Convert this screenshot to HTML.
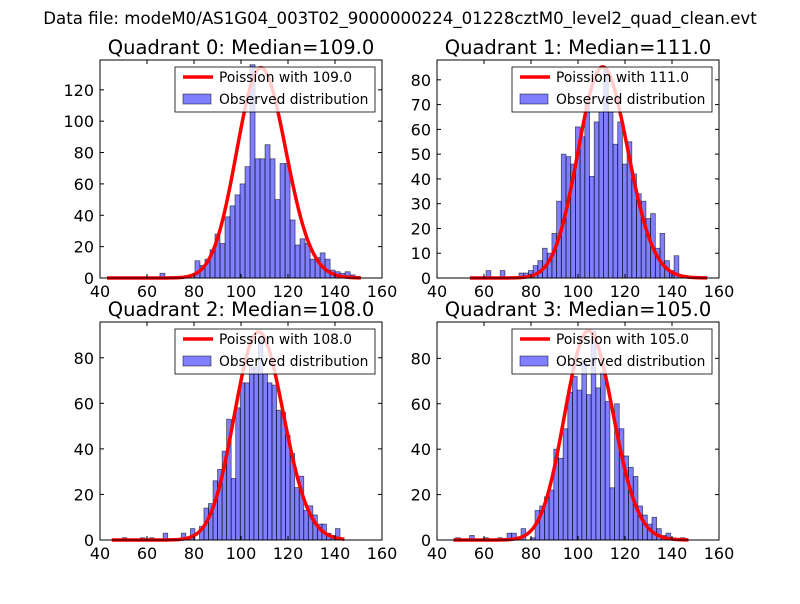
<!DOCTYPE html>
<html><head><meta charset="utf-8"><style>
body{margin:0;background:#fff;font-family:"DejaVu Sans",sans-serif}
svg text{font-family:"DejaVu Sans","Liberation Sans",sans-serif}
</style></head><body>
<svg id="fig" width="800" height="600" viewBox="0 0 800 600">
<rect width="800" height="600" fill="#fff"/>
<text x="400" y="24" font-size="16.6" text-anchor="middle">Data file: modeM0/AS1G04_003T02_9000000224_01228cztM0_level2_quad_clean.evt</text>
</svg>
<script>
const medians = [109.0, 111.0, 108.0, 105.0];
const binStarts = [65.5, 60.9, 49.5, 47.9];
const binWidths = [2.13, 2.0, 1.93, 1.99];
const counts0 = [3,0,0,0,0,0,0,11,8,12,18,28,22,39,46,53,60,71,136,76,76,85,76,50,73,73,37,21,25,22,12,13,16,12,5,4,3,4,2,1];
const counts1 = [3,0,0,3,0,0,0,2,2,3,5,7,12,10,18,31,50,49,46,61,57,70,41,63,67,84,67,54,63,46,55,42,34,31,24,26,12,18,7,3,9];
const counts2 = [1,0,0,0,1,0,1,0,0,3,0,0,0,3,0,5,0,6,14,16,26,31,39,53,27,58,69,69,76,76,88,73,69,68,57,56,46,38,23,28,13,15,11,7,7,3,2,5];
const counts3 = [1,0,0,2,0,0,1,0,0,1,0,3,3,0,5,0,1,13,15,19,22,40,36,49,65,72,66,79,64,92,67,74,61,23,60,49,37,32,28,15,11,7,10,5,2,3,1,0,1];
const allCounts = [counts0, counts1, counts2, counts3];
const curveScales = [3508, 2250, 2380, 2365];
const curveMin = [43, 54, 45, 47];
const curveMax = [151, 155, 144, 147];
const yMaxes = [139, 88, 95.7, 96];
const xTicks = [40, 60, 80, 100, 120, 140, 160];
const yTickSets = [[0,20,40,60,80,100,120],[0,10,20,30,40,50,60,70,80],[0,20,40,60,80],[0,20,40,60,80]];

const NS = "http://www.w3.org/2000/svg";
const svg = document.getElementById('fig');
function mk(tag, attrs, parent){const e=document.createElementNS(NS,tag);for(const k in attrs)e.setAttribute(k,attrs[k]);(parent||svg).appendChild(e);return e;}
function lnFact(k){ if(k<2) return 0; return k*Math.log(k)-k+0.5*Math.log(2*Math.PI*k)+1/(12*k)-1/(360*k*k*k); }
function pois(k,l){ return Math.exp(k*Math.log(l)-l-lnFact(k)); }

const boxes = [[100,60],[437,60],[100,322],[437,322]];
const W=282, H=218;
for(let q=0;q<4;q++){
  const [L,T]=boxes[q];
  const xs = v => L + (v-40)/120*W;
  const ys = v => T + H - v/yMaxes[q]*H;
  const g = mk('g',{});
  
  
  const t = mk('text',{x:L+W/2,y:T-6,'font-size':'19.5','text-anchor':'middle'},g);
  t.textContent='Quadrant '+q+': Median='+medians[q].toFixed(1);
  
  
  const c = allCounts[q];
  for(let i=0;i<c.length;i++){
    if(c[i]<=0) continue;
    const x0 = binStarts[q]+i*binWidths[q];
    const r = mk('rect',{x:xs(x0),y:ys(c[i]),width:xs(x0+binWidths[q])-xs(x0),height:ys(0)-ys(c[i]),fill:'rgba(0,0,255,0.5)',stroke:'#000','stroke-opacity':'0.6','stroke-width':'0.8'},g);
    
    
  }
  let d='';
  for(let k=curveMin[q];k<=curveMax[q];k+=0.5){
    const v=pois(k,medians[q])*curveScales[q];
    d+=(d?'L':'M')+xs(k).toFixed(2)+','+ys(v).toFixed(2);
  }
  const p = mk('path',{d:d,fill:'none',stroke:'#f00','stroke-width':'3.5','stroke-linejoin':'round'},g);
  
  
  const fr = mk('rect',{x:L,y:T,width:W,height:H,fill:'none',stroke:'#000','stroke-width':'1'},g);
  
  
  for(const v of xTicks){
    const x=xs(v);
    mk('line',{x1:x,y1:T+H,x2:x,y2:T+H-4,stroke:'#000'},g);
    mk('line',{x1:x,y1:T,x2:x,y2:T+4,stroke:'#000'},g);
    const tl=mk('text',{x:x,y:T+H+19,'font-size':'16','text-anchor':'middle'},g);
    tl.textContent=v;
    
    
  }
  for(const v of yTickSets[q]){
    const y=ys(v);
    mk('line',{x1:L,y1:y,x2:L+4,y2:y,stroke:'#000'},g);
    mk('line',{x1:L+W,y1:y,x2:L+W-4,y2:y,stroke:'#000'},g);
    const tl=mk('text',{x:L-6,y:y+6,'font-size':'16','text-anchor':'end'},g);
    tl.textContent=v;
    
    
  }
  const lg = mk('g',{},g);
  
  
  mk('rect',{x:L+75,y:T+7,width:200,height:45,fill:'rgba(255,255,255,0.8)',stroke:'#000','stroke-width':'0.8'},lg);
  mk('line',{x1:L+83,y1:T+17,x2:L+113,y2:T+17,stroke:'#f00','stroke-width':'3.5'},lg);
  const t1=mk('text',{x:L+119,y:T+22,'font-size':'13.8'},lg);
  t1.textContent='Poission with '+medians[q].toFixed(1);
  
  
  mk('rect',{x:L+83,y:T+34,width:28,height:10,fill:'rgba(0,0,255,0.5)',stroke:'#000','stroke-opacity':'0.6','stroke-width':'0.8'},lg);
  const t2=mk('text',{x:L+119,y:T+44,'font-size':'13.8'},lg);
  t2.textContent='Observed distribution';
  
  
}
</script>
</body></html>
